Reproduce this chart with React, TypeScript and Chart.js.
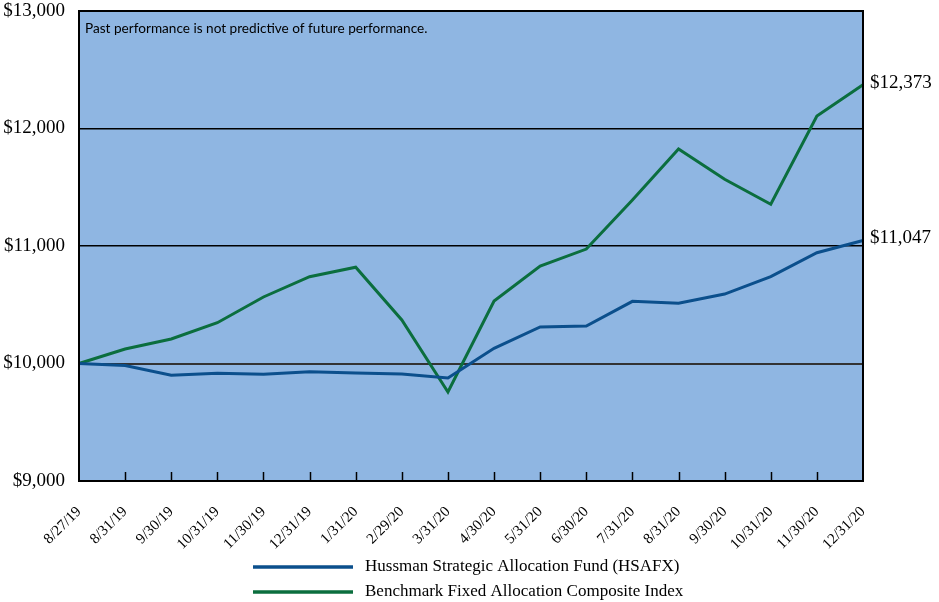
import React, { useEffect, useRef } from "react";
import { Chart, registerables } from "chart.js";

Chart.register(...registerables);

const categories = [
  "8/27/19", "8/31/19", "9/30/19", "10/31/19", "11/30/19", "12/31/19", "1/31/20",
  "2/29/20", "3/31/20", "4/30/20", "5/31/20", "6/30/20", "7/31/20", "8/31/20",
  "9/30/20", "10/31/20", "11/30/20", "12/31/20",
];

const fundValues = [
  10000, 9983, 9900, 9917, 9909, 9930, 9919, 9911, 9877, 10129, 10311, 10319,
  10529, 10512, 10591, 10739, 10943, 11047,
];

const benchmarkValues = [
  10000, 10123, 10209, 10347, 10566, 10739, 10819, 10370, 9757, 10532, 10830,
  10974, 11391, 11826, 11568, 11355, 12106, 12373,
];

const seriesNames = [
  "Hussman Strategic Allocation Fund (HSAFX)",
  "Benchmark Fixed Allocation Composite Index",
];

const endLabels = ["$11,047", "$12,373"];
const noteText = "Past performance is not predictive of future performance.";

const FUND_COLOR = "#0b4f8c";
const BENCH_COLOR = "#0b6e3e";
const PLOT_BG = "#8fb6e2";
const SERIF = "'Liberation Serif', 'Times New Roman', serif";

export default function App() {
  const canvasRef = useRef<HTMLCanvasElement | null>(null);

  useEffect(() => {
    document.body.style.margin = "0";
    const canvas = canvasRef.current;
    if (!canvas) return;

    const customPlugin = {
      id: "custom",
      beforeDraw(chart: any) {
        const { ctx, chartArea } = chart;
        ctx.save();
        ctx.fillStyle = "#ffffff";
        ctx.fillRect(0, 0, chart.width, chart.height);
        ctx.fillStyle = PLOT_BG;
        ctx.fillRect(chartArea.left, chartArea.top, chartArea.right - chartArea.left, chartArea.bottom - chartArea.top);
        ctx.restore();
      },
      afterDatasetsDraw(chart: any) {
        const { ctx, chartArea } = chart;
        const xScale = chart.scales.x;
        ctx.save();
        // border
        ctx.strokeStyle = "#000";
        ctx.lineWidth = 2;
        ctx.strokeRect(chartArea.left, chartArea.top, chartArea.right - chartArea.left, chartArea.bottom - chartArea.top);
        // tick marks
        ctx.lineWidth = 1.5;
        for (let i = 1; i < categories.length - 1; i++) {
          const x = Math.round(xScale.getPixelForValue(i)) + 0.5;
          ctx.beginPath();
          ctx.moveTo(x, chartArea.bottom);
          ctx.lineTo(x, chartArea.bottom - 9);
          ctx.stroke();
        }
        // note
        ctx.fillStyle = "#000";
        ctx.font = "13.6px Lato, 'Open Sans', sans-serif";
        ctx.textAlign = "left";
        ctx.textBaseline = "middle";
        ctx.fillText(noteText, chartArea.left + 6, 29);
        // end labels
        ctx.font = `19px ${SERIF}`;
        chart.data.datasets.forEach((ds: any, di: number) => {
          const meta = chart.getDatasetMeta(di);
          const pt = meta.data[meta.data.length - 1];
          ctx.fillText(endLabels[di], chartArea.right + 7, pt.y - 2);
        });
        // legend
        const legendColors = [FUND_COLOR, BENCH_COLOR];
        const legendY = [567, 592];
        ctx.font = `17px ${SERIF}`;
        for (let i = 0; i < 2; i++) {
          ctx.strokeStyle = legendColors[i];
          ctx.lineWidth = 3.5;
          ctx.beginPath();
          ctx.moveTo(253, legendY[i]);
          ctx.lineTo(353, legendY[i]);
          ctx.stroke();
          ctx.fillStyle = "#000";
          ctx.fillText(seriesNames[i], 365, legendY[i]);
        }
        ctx.restore();
      },
    };

    const chart = new Chart(canvas, {
      type: "line",
      data: {
        labels: categories,
        datasets: [
          {
            label: seriesNames[0],
            data: fundValues,
            borderColor: FUND_COLOR,
            borderWidth: 3,
            pointRadius: 0,
            tension: 0,
            fill: false,
          },
          {
            label: seriesNames[1],
            data: benchmarkValues,
            borderColor: BENCH_COLOR,
            borderWidth: 3,
            pointRadius: 0,
            tension: 0,
            fill: false,
          },
        ],
      },
      options: {
        animation: false,
        responsive: false,
        maintainAspectRatio: false,
        layout: { padding: { top: 11, right: 76, left: 0, bottom: 0 } },
        plugins: {
          legend: { display: false },
          tooltip: { enabled: false },
          title: { display: false },
        },
        scales: {
          x: {
            type: "category",
            offset: false,
            grid: { display: false, drawTicks: false },
            border: { display: false },
            ticks: {
              autoSkip: false,
              maxRotation: 45,
              minRotation: 45,
              padding: 22,
              color: "#000",
              font: { family: SERIF, size: 15 },
            },
            afterFit(scale: any) {
              scale.height = 121;
              scale.paddingLeft = 0;
              scale.paddingRight = 0;
            },
          },
          y: {
            min: 9000,
            max: 13000,
            ticks: {
              stepSize: 1000,
              padding: 14,
              color: "#000",
              font: { family: SERIF, size: 19 },
              callback: (v: any) => "$" + Number(v).toLocaleString("en-US"),
            },
            grid: {
              drawTicks: false,
              color: (c: any) => (c.tick && c.tick.value === 10000 ? "#333" : "#000"),
              lineWidth: (c: any) => (c.tick && c.tick.value === 10000 ? 2 : 1.5),
            },
            border: { display: false },
            afterFit(scale: any) {
              scale.width = 79;
              scale.paddingTop = 0;
              scale.paddingBottom = 0;
            },
          },
        },
      },
      plugins: [customPlugin],
    });

    return () => chart.destroy();
  }, []);

  return (
    <div style={{ position: "relative", width: 939, height: 602 }}>
      <canvas ref={canvasRef} width={939} height={602} style={{ display: "block" }} />
    </div>
  );
}
